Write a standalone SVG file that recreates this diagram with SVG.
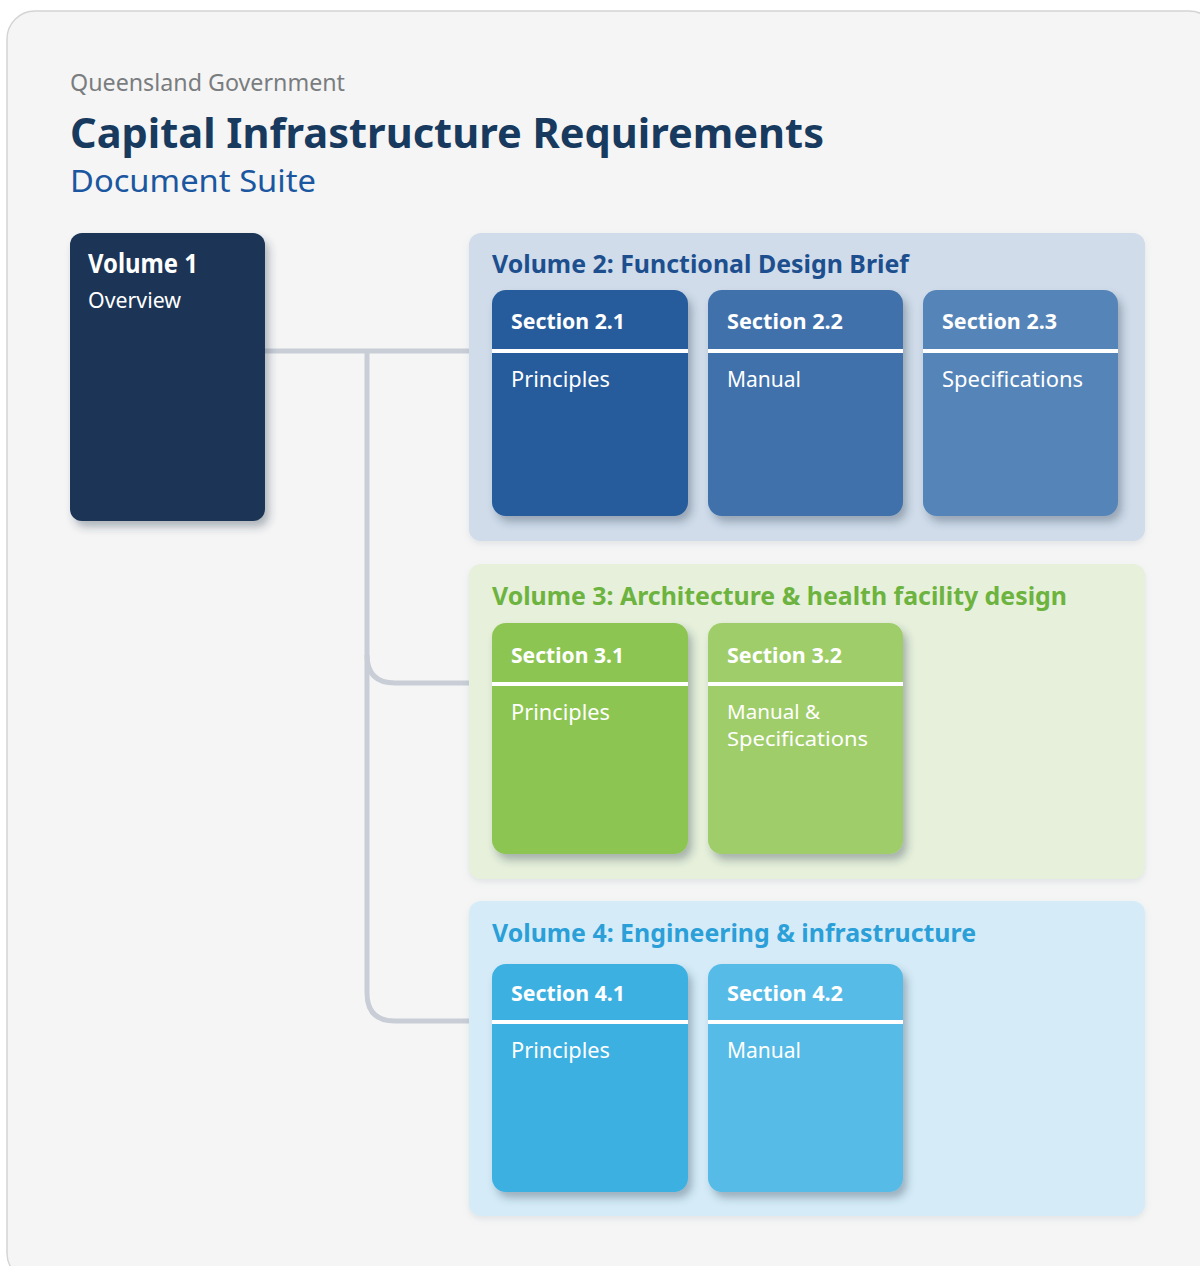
<svg xmlns="http://www.w3.org/2000/svg" width="1200" height="1266" viewBox="0 0 1200 1266">
  <defs>
    <filter id="shadow" x="-10%" y="-10%" width="130%" height="130%">
      <feDropShadow dx="4" dy="6" stdDeviation="4" flood-color="#2a3a50" flood-opacity="0.35"/>
    </filter>
    <filter id="soft" x="-5%" y="-5%" width="110%" height="115%">
      <feDropShadow dx="0" dy="3" stdDeviation="3" flood-color="#8090a0" flood-opacity="0.18"/>
    </filter>
    <style>
      text { font-family: "Noto Sans", "Open Sans", "Liberation Sans", sans-serif; }
      .b { font-weight: 700; }
      .w { fill: #ffffff; }
      .conn { fill: none; stroke: #c8cdd6; stroke-width: 5; }
      .div { stroke: #ffffff; stroke-width: 4; }
      .hd { font-size: 22px; font-weight: 700; fill: #ffffff; }
      .bd { font-size: 22px; fill: #ffffff; }
      .bd2 { font-size: 20px; fill: #ffffff; }
      .vt { font-size: 25px; font-weight: 700; }
    </style>
  </defs>

  <!-- page background and card -->
  <rect x="0" y="0" width="1200" height="1266" fill="#ffffff"/>
  <rect x="7" y="11" width="1210" height="1270" rx="28" fill="#f5f5f5" stroke="#d4d4d4" stroke-width="1.5"/>

  <!-- heading -->
  <g id="heading">
    <text x="70" y="91" font-size="23" fill="#7a7d80" textLength="275" lengthAdjust="spacingAndGlyphs">Queensland Government</text>
    <text x="70" y="148" font-size="42" class="b" fill="#173a5e" textLength="754" lengthAdjust="spacingAndGlyphs">Capital Infrastructure Requirements</text>
    <text x="70" y="192" font-size="30" fill="#1a57a0" textLength="246" lengthAdjust="spacingAndGlyphs">Document Suite</text>
  </g>

  <!-- connectors from Volume 1 to the other volumes -->
  <g id="connectors">
    <path class="conn" d="M265 351 H469"/>
    <path class="conn" d="M367 351 V993 Q367 1021 395 1021 H469"/>
    <path class="conn" d="M367 655 Q367 683 395 683 H469"/>
  </g>

  <!-- Volume 1 -->
  <g id="volume1">
    <rect x="70" y="233" width="195" height="288" rx="12" fill="#1a3656" filter="url(#shadow)"/>
    <text x="88" y="273" font-size="26" class="b w" textLength="110" lengthAdjust="spacingAndGlyphs">Volume 1</text>
    <text x="88" y="308" font-size="21" class="w" textLength="93" lengthAdjust="spacingAndGlyphs">Overview</text>
  </g>

  <!-- Volume 2 -->
  <g id="volume2">
    <rect x="469" y="233" width="676" height="308" rx="12" fill="#d0dcea" filter="url(#soft)"/>
    <text x="492" y="273" class="vt" fill="#1d4f8f" textLength="417" lengthAdjust="spacingAndGlyphs">Volume 2: Functional Design Brief</text>
  </g>
  <g id="section2-1">
    <rect x="492" y="290" width="196" height="226" rx="14" fill="#255c9c" filter="url(#shadow)"/>
    <line class="div" x1="492" y1="351" x2="688" y2="351"/>
    <text x="511" y="329" class="hd" textLength="114" lengthAdjust="spacingAndGlyphs">Section 2.1</text>
    <text x="511" y="387" class="bd" textLength="99" lengthAdjust="spacingAndGlyphs">Principles</text>
  </g>
  <g id="section2-2">
    <rect x="708" y="290" width="195" height="226" rx="14" fill="#3f71ab" filter="url(#shadow)"/>
    <line class="div" x1="708" y1="351" x2="903" y2="351"/>
    <text x="727" y="329" class="hd" textLength="116" lengthAdjust="spacingAndGlyphs">Section 2.2</text>
    <text x="727" y="387" class="bd" textLength="74" lengthAdjust="spacingAndGlyphs">Manual</text>
  </g>
  <g id="section2-3">
    <rect x="923" y="290" width="195" height="226" rx="14" fill="#5584b8" filter="url(#shadow)"/>
    <line class="div" x1="923" y1="351" x2="1118" y2="351"/>
    <text x="942" y="329" class="hd" textLength="115" lengthAdjust="spacingAndGlyphs">Section 2.3</text>
    <text x="942" y="387" class="bd" textLength="141" lengthAdjust="spacingAndGlyphs">Specifications</text>
  </g>

  <!-- Volume 3 -->
  <g id="volume3">
    <rect x="469" y="564" width="676" height="315" rx="12" fill="#e6f0da" filter="url(#soft)"/>
    <text x="492" y="605" class="vt" fill="#6db33f" textLength="575" lengthAdjust="spacingAndGlyphs">Volume 3: Architecture &amp; health facility design</text>
  </g>
  <g id="section3-1">
    <rect x="492" y="623" width="196" height="231" rx="14" fill="#8dc553" filter="url(#shadow)"/>
    <line class="div" x1="492" y1="684" x2="688" y2="684"/>
    <text x="511" y="663" class="hd" textLength="113" lengthAdjust="spacingAndGlyphs">Section 3.1</text>
    <text x="511" y="720" class="bd" textLength="99" lengthAdjust="spacingAndGlyphs">Principles</text>
  </g>
  <g id="section3-2">
    <rect x="708" y="623" width="195" height="231" rx="14" fill="#9fcd6a" filter="url(#shadow)"/>
    <line class="div" x1="708" y1="684" x2="903" y2="684"/>
    <text x="727" y="663" class="hd" textLength="115" lengthAdjust="spacingAndGlyphs">Section 3.2</text>
    <text x="727" y="719" class="bd2" textLength="93" lengthAdjust="spacingAndGlyphs">Manual &amp;</text>
    <text x="727" y="746" class="bd2" textLength="141" lengthAdjust="spacingAndGlyphs">Specifications</text>
  </g>

  <!-- Volume 4 -->
  <g id="volume4">
    <rect x="469" y="901" width="676" height="315" rx="12" fill="#d5ecf8" filter="url(#soft)"/>
    <text x="492" y="942" class="vt" fill="#2a9fd8" textLength="484" lengthAdjust="spacingAndGlyphs">Volume 4: Engineering &amp; infrastructure</text>
  </g>
  <g id="section4-1">
    <rect x="492" y="964" width="196" height="228" rx="14" fill="#3db0e2" filter="url(#shadow)"/>
    <line class="div" x1="492" y1="1022" x2="688" y2="1022"/>
    <text x="511" y="1001" class="hd" textLength="114" lengthAdjust="spacingAndGlyphs">Section 4.1</text>
    <text x="511" y="1058" class="bd" textLength="99" lengthAdjust="spacingAndGlyphs">Principles</text>
  </g>
  <g id="section4-2">
    <rect x="708" y="964" width="195" height="228" rx="14" fill="#56bbe6" filter="url(#shadow)"/>
    <line class="div" x1="708" y1="1022" x2="903" y2="1022"/>
    <text x="727" y="1001" class="hd" textLength="116" lengthAdjust="spacingAndGlyphs">Section 4.2</text>
    <text x="727" y="1058" class="bd" textLength="74" lengthAdjust="spacingAndGlyphs">Manual</text>
  </g>
</svg>
